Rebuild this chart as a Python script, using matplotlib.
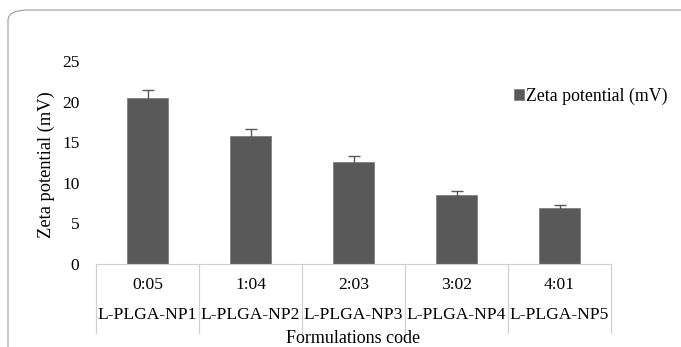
import matplotlib
matplotlib.use("Agg")
import matplotlib.pyplot as plt
from matplotlib.patches import FancyBboxPatch
import matplotlib.transforms as mtransforms

plt.rcParams['font.family'] = ['Liberation Serif', 'DejaVu Serif']

ratios = ["0:05", "1:04", "2:03", "3:02", "4:01"]
codes = ["L-PLGA-NP1", "L-PLGA-NP2", "L-PLGA-NP3", "L-PLGA-NP4", "L-PLGA-NP5"]
zeta = [20.4, 15.8, 12.6, 8.5, 6.85]
zeta_err = [1.0, 0.8, 0.65, 0.45, 0.4]

W, H = 681, 347
fig = plt.figure(figsize=(W / 100, H / 100), dpi=100)

# rounded outer frame (cut off at right and bottom)
frame = FancyBboxPatch((8 / W, -0.2), 1.2, 0.2 + 1 - 10 / H,
                       boxstyle="round,pad=0,rounding_size=0.03",
                       transform=fig.transFigure, fill=False,
                       edgecolor="#a6a6a6", linewidth=0.9)
fig.patches.append(frame)

ax = fig.add_axes([96 / W, 1 - 264 / H, (611 - 96) / W, (264 - 61) / H])
x = range(len(codes))
ax.bar(x, zeta, width=0.4, color="#595959", edgecolor="#7f7f7f", linewidth=0.6,
       yerr=zeta_err, capsize=4,
       error_kw=dict(ecolor="#595959", elinewidth=1, capthick=1),
       label="Zeta potential (mV)")

ax.set_xlim(-0.5, len(codes) - 0.5)
ax.set_ylim(0, 25)
ax.set_yticks(range(0, 26, 5))
ax.tick_params(axis='y', length=0, pad=12, labelsize=12.5)
ax.set_xticks([])
for s in ["top", "right", "left"]:
    ax.spines[s].set_visible(False)
ax.spines["bottom"].set_color("#d0d0d0")

# two-level category axis
tr = mtransforms.blended_transform_factory(ax.transData, ax.transAxes)
for i in range(len(codes) + 1):
    ax.plot([i - 0.5, i - 0.5], [0, -0.34], transform=tr, color="#d0d0d0",
            linewidth=0.9, clip_on=False)
for i, (r, c) in enumerate(zip(ratios, codes)):
    ax.text(i, -0.105, r, transform=tr, ha="center", va="center", fontsize=12.6)
    ax.text(i, -0.25, c, transform=tr, ha="center", va="center", fontsize=12.6)

ax.text(0.5, -0.365, "Formulations code", transform=ax.transAxes,
        ha="center", va="center", fontsize=13)
fig.text(46 / W, 1 - 165 / H, "Zeta potential (mV)", rotation=90,
         ha="center", va="center", fontsize=13.2)

fig.legend(loc="center right", bbox_to_anchor=(668 / W, 1 - 96 / H),
           frameon=False, fontsize=12.8, handlelength=0.55, handleheight=0.55,
           handletextpad=0.15, borderpad=0, borderaxespad=0)

fig.savefig("out.png", dpi=100)
